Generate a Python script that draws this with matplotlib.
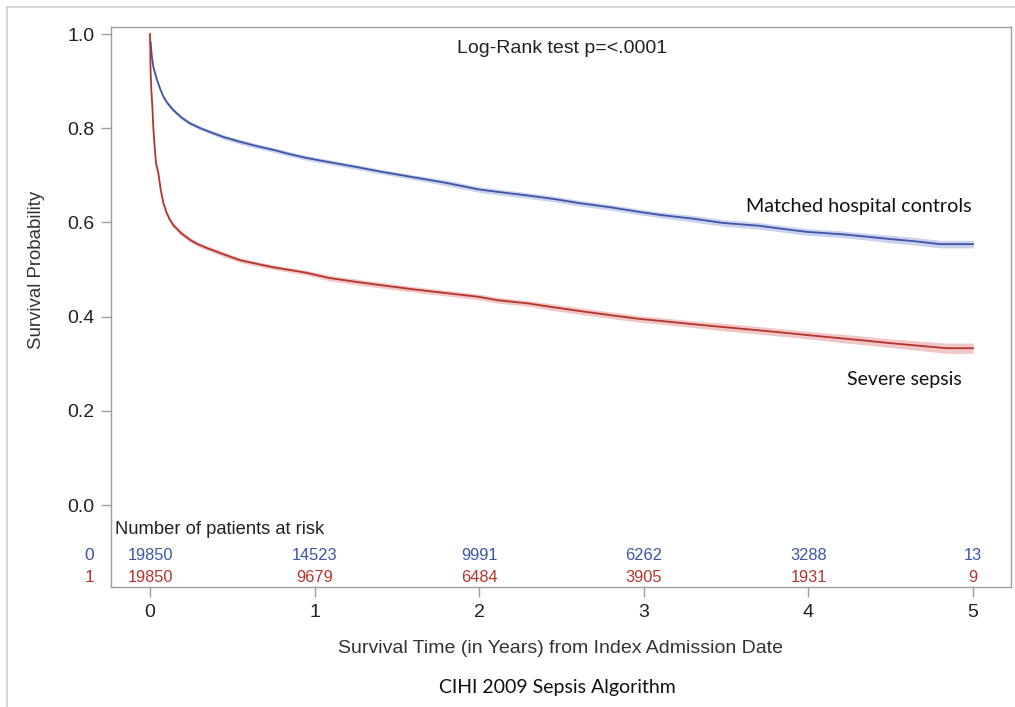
import matplotlib
matplotlib.use("Agg")
import matplotlib.pyplot as plt
import matplotlib.patches as patches
import numpy as np

# Kaplan-Meier estimates
ctrl_t = [0.003, 0.006, 0.01, 0.02, 0.04, 0.06, 0.08, 0.10, 0.14, 0.19,
          0.24, 0.30, 0.35, 0.45, 0.55, 0.65, 0.75, 0.85, 0.95, 1.09,
          1.25, 1.40, 1.60, 1.80, 2.0, 2.11, 2.3, 2.45, 2.61, 2.8,
          2.98, 3.1, 3.3, 3.48, 3.7, 3.85, 3.99, 4.2, 4.35, 4.49,
          4.65, 4.80, 5.0]
ctrl_s = [0.983, 0.972, 0.955, 0.93, 0.905, 0.885, 0.868, 0.856, 0.839, 0.823,
          0.811, 0.801, 0.794, 0.781, 0.771, 0.762, 0.754, 0.745, 0.737, 0.728,
          0.718, 0.708, 0.696, 0.684, 0.670, 0.665, 0.657, 0.650, 0.641, 0.632,
          0.622, 0.616, 0.608, 0.599, 0.593, 0.586, 0.580, 0.575, 0.570, 0.565,
          0.560, 0.554, 0.554]
ctrl_ci = [0.004, 0.004, 0.004, 0.004, 0.004, 0.004, 0.004, 0.004, 0.004, 0.004,
           0.004, 0.004, 0.004, 0.005, 0.005, 0.005, 0.005, 0.005, 0.005, 0.005,
           0.005, 0.005, 0.005, 0.006, 0.006, 0.006, 0.006, 0.006, 0.006, 0.006,
           0.006, 0.006, 0.007, 0.007, 0.007, 0.007, 0.007, 0.007, 0.007, 0.008,
           0.008, 0.008, 0.008]

seps_t = [0, 0.003, 0.008, 0.014, 0.02, 0.028, 0.036, 0.05, 0.065, 0.081,
          0.101, 0.12, 0.142, 0.19, 0.243, 0.29, 0.344, 0.45, 0.546, 0.65,
          0.747, 0.85, 0.953, 1.09, 1.25, 1.40, 1.60, 1.80, 2.0, 2.11,
          2.3, 2.45, 2.61, 2.8, 2.98, 3.1, 3.3, 3.48, 3.7, 3.85,
          3.99, 4.2, 4.35, 4.49, 4.68, 4.84, 5.0]
seps_s = [1.0, 0.924, 0.88, 0.845, 0.80, 0.76, 0.726, 0.705, 0.669, 0.641,
          0.620, 0.606, 0.594, 0.577, 0.563, 0.554, 0.546, 0.532, 0.520, 0.512,
          0.505, 0.499, 0.493, 0.482, 0.474, 0.467, 0.458, 0.450, 0.442, 0.435,
          0.428, 0.420, 0.412, 0.403, 0.395, 0.391, 0.384, 0.378, 0.371, 0.366,
          0.361, 0.354, 0.349, 0.344, 0.338, 0.333, 0.333]
seps_ci = [0.003, 0.004, 0.004, 0.004, 0.004, 0.004, 0.005, 0.005, 0.005, 0.005,
           0.005, 0.005, 0.005, 0.005, 0.005, 0.005, 0.005, 0.005, 0.005, 0.005,
           0.005, 0.005, 0.005, 0.006, 0.006, 0.006, 0.006, 0.006, 0.006, 0.006,
           0.006, 0.007, 0.007, 0.007, 0.007, 0.007, 0.007, 0.008, 0.008, 0.008,
           0.008, 0.009, 0.009, 0.009, 0.010, 0.011, 0.011]

risk_times = [0, 1, 2, 3, 4, 5]
risk_ctrl = [19850, 14523, 9991, 6262, 3288, 13]
risk_seps = [19850, 9679, 6484, 3905, 1931, 9]

blue = "#3d55a6"
red = "#b3362d"
gray = "#9a9fa3"
sans = "Liberation Sans"
calibri_like = "Lato"

fig = plt.figure(figsize=(10.15, 7.07), dpi=100)
ax = fig.add_axes([0.1094, 0.1697, 0.8866, 0.7921])

# outer frame of the slide image
fig.add_artist(patches.Rectangle((0.007, -0.01), 1.1, 1.0, transform=fig.transFigure,
                                 fill=False, edgecolor="#d0d0d0", linewidth=1.2))

for t, s, ci, col, band in [(ctrl_t, ctrl_s, ctrl_ci, blue, "#c9d1ec"),
                            (seps_t, seps_s, seps_ci, red, "#f2c6c6")]:
    t = np.array(t)
    s = np.array(s)
    ci = np.array(ci)
    ax.fill_between(t, s - ci, s + ci, color=band, linewidth=0)
    ax.plot(t, s, color=col, linewidth=1.3)

ax.set_xlim(-0.237, 5.23)
ax.set_ylim(-0.174, 1.015)
ax.set_xticks(risk_times)
ax.set_yticks([0.0, 0.2, 0.4, 0.6, 0.8, 1.0])
ax.set_yticklabels(["0.0", "0.2", "0.4", "0.6", "0.8", "1.0"])
for sp in ax.spines.values():
    sp.set_color(gray)
    sp.set_linewidth(1.0)
ax.tick_params(colors=gray, length=7, width=1.0)
ax.tick_params(axis="x", labelcolor="#222222", labelsize=14, pad=5)
ax.tick_params(axis="y", labelcolor="#222222", labelsize=14, pad=5)
for lab in ax.get_xticklabels() + ax.get_yticklabels():
    lab.set_family(sans)

ax.set_xlabel("Survival Time (in Years) from Index Admission Date",
              fontsize=14, family=sans, color="#333333", labelpad=14)
ax.set_ylabel("Survival Probability", fontsize=13.4, family=sans, color="#333333")
ax.yaxis.set_label_coords(-0.073, (0.5 + 0.174) / 1.189)

ax.text(2.5, 0.97, "Log-Rank test p=<.0001", fontsize=14, family=sans,
        color="#222222", ha="center", va="center")
ax.text(4.99, 0.634, "Matched hospital controls", fontsize=14.2, family=calibri_like,
        color="#111111", ha="right", va="center")
ax.text(4.93, 0.267, "Severe sepsis", fontsize=14, family=calibri_like,
        color="#111111", ha="right", va="center")

# number at risk table
ax.text(-0.21, -0.051, "Number of patients at risk", fontsize=13.2, family=sans,
        color="#222222", ha="left", va="center")
for x, nc, ns in zip(risk_times, risk_ctrl, risk_seps):
    ax.text(x, -0.108, str(nc), fontsize=11.8, family=sans, color=blue,
            ha="center", va="center")
    ax.text(x, -0.153, str(ns), fontsize=11.8, family=sans, color=red,
            ha="center", va="center")
ax.text(-0.024, -0.108, "0", transform=ax.get_yaxis_transform(), fontsize=12.5,
        family=sans, color=blue, ha="center", va="center")
ax.text(-0.024, -0.153, "1", transform=ax.get_yaxis_transform(), fontsize=12.5,
        family=sans, color=red, ha="center", va="center")

fig.text(557 / 1015, 1 - 688 / 707, "CIHI 2009 Sepsis Algorithm", fontsize=14,
         family=calibri_like, color="#111111", ha="center", va="center")

fig.savefig("out.png", dpi=100)
